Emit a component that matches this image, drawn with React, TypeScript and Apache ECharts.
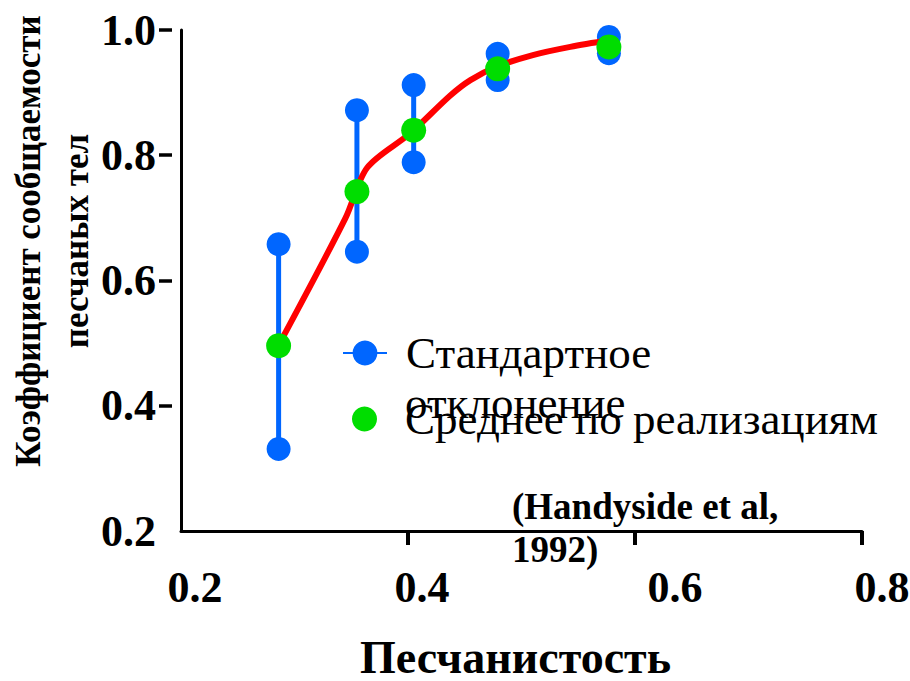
import React, { useEffect, useRef } from "react";
import * as echarts from "echarts";

// ---- data ----
const sandRatio = [0.286, 0.355, 0.405, 0.479, 0.577];
const meanCoef = [0.496, 0.742, 0.84, 0.938, 0.973];
const sdLow = [0.331, 0.646, 0.789, 0.92, 0.963];
const sdHigh = [0.658, 0.872, 0.912, 0.962, 0.989];
const fitX = [0.287, 0.345, 0.364, 0.402, 0.437, 0.455, 0.479, 0.51, 0.543, 0.578];
const fitY = [0.5, 0.7, 0.78, 0.835, 0.895, 0.92, 0.942, 0.96, 0.973, 0.984];
const xTickLabels = [0.2, 0.4, 0.6, 0.8];
const xTickMarks = [0.4, 0.6, 0.8];
const yTickLabels = [0.2, 0.4, 0.6, 0.8, 1.0];
const yTickMarks = [0.4, 0.6, 0.8, 1.0];

const SD_NAME = "Стандартное отклонение";
const MEAN_NAME = "Среднее по реализациям";
const X_TITLE = "Песчанистость";
const Y_TITLE = "Коэффициент сообщаемости\nпесчаных тел";
const SOURCE = "(Handyside et al,\n1992)";

const FONT = "Liberation Serif, serif";
const BLUE = "#0066ff";
const GREEN = "#00dd00";
const RED = "#ff0000";

// horizontal shift (px) of each x tick label, as in the picture
const xLabelShift = [14, 14, 40, 20];

export default function App() {
  const ref = useRef<HTMLDivElement>(null);
  useEffect(() => {
    if (!ref.current) return;
    const chart = echarts.init(ref.current, null, { renderer: "svg" });
    const xRich: Record<string, any> = {};
    xLabelShift.forEach((s, i) => {
      xRich["t" + i] = {
        fontFamily: FONT,
        fontWeight: "bold",
        fontSize: 44,
        color: "#000",
        padding: [0, 0, 0, s * 2],
      };
    });
    const sdSeries = sandRatio.map((x, i) => ({
      type: "line",
      name: SD_NAME,
      data: [
        [x, sdLow[i]],
        [x, sdHigh[i]],
      ],
      symbol: "circle",
      symbolSize: 24,
      itemStyle: { color: BLUE },
      lineStyle: { color: BLUE, width: 5 },
      z: 2,
    }));
    const option: any = {
      animation: false,
      backgroundColor: "#ffffff",
      textStyle: { fontFamily: FONT },
      grid: { left: 181, right: 48, top: 30, bottom: 150, containLabel: false, outerBoundsMode: "none" },
      xAxis: {
        type: "value",
        min: 0.2,
        max: 0.8,
        interval: 0.2,
        axisLine: { show: true, lineStyle: { color: "#000", width: 3 } },
        axisTick: { show: true, customValues: xTickMarks, length: 14, lineStyle: { color: "#000", width: 4 } },
        axisLabel: {
          customValues: xTickLabels,
          margin: 34,
          fontFamily: FONT,
          fontWeight: "bold",
          fontSize: 44,
          color: "#000",
          formatter: (v: number) => {
            const i = xTickLabels.findIndex((t) => Math.abs(t - v) < 1e-9);
            return `{t${i}|${v.toFixed(1)}}`;
          },
          rich: xRich,
        },
        splitLine: { show: false },
        name: X_TITLE,
        nameLocation: "middle",
        nameGap: 103,
        nameTextStyle: {
          fontFamily: FONT,
          fontWeight: "bold",
          fontSize: 46,
          color: "#000",
          padding: [0, 12, 0, 0],
        },
      },
      yAxis: [
        {
          type: "value",
          min: 0.2,
          max: 1.0,
          interval: 0.2,
          axisLine: { show: true, lineStyle: { color: "#000", width: 3 } },
          axisTick: { show: false },
          axisLabel: { show: false },
          splitLine: { show: false },
        },
        {
          type: "value",
          min: 0.2,
          max: 1.0,
          interval: 0.2,
          position: "left",
          offset: 9,
          axisLine: { show: false },
          axisTick: { show: true, customValues: yTickMarks, length: 13, lineStyle: { color: "#000", width: 3.5 } },
          axisLabel: {
            customValues: yTickLabels,
            margin: 16,
            fontFamily: FONT,
            fontWeight: "bold",
            fontSize: 44,
            color: "#000",
            formatter: (v: number) => v.toFixed(1),
          },
          splitLine: { show: false },
        },
      ],
      legend: [
        {
          data: [{ name: SD_NAME }],
          left: 342,
          top: 323,
          padding: 0,
          itemWidth: 44,
          itemHeight: 31,
          selectedMode: false,
          formatter: () => "Стандартное",
          textStyle: { fontFamily: FONT, fontSize: 45, lineHeight: 50, color: "#000", padding: [0, 0, 10, 14] },
        },
        {
          data: [{ name: MEAN_NAME, icon: "circle" }],
          left: 352,
          top: 394,
          padding: 0,
          itemWidth: 25,
          itemHeight: 25,
          selectedMode: false,
          textStyle: { fontFamily: FONT, fontSize: 45, lineHeight: 50, color: "#000", padding: [0, 0, 0, 23] },
        },
      ],
      graphic: [
        {
          type: "text",
          x: 52,
          y: 241,
          rotation: Math.PI / 2,
          style: {
            text: Y_TITLE,
            fontFamily: FONT,
            fontWeight: "bold",
            fontSize: 35,
            lineHeight: 48,
            align: "center",
            verticalAlign: "middle",
            fill: "#000",
          },
        },
        {
          type: "text",
          x: 405,
          y: 403,
          style: {
            text: "отклонение",
            fontFamily: FONT,
            fontSize: 45,
            align: "left",
            verticalAlign: "middle",
            fill: "#000",
          },
        },
        {
          type: "text",
          x: 512,
          y: 485,
          z: 100,
          style: {
            text: SOURCE,
            fontFamily: FONT,
            fontWeight: "bold",
            fontSize: 37,
            lineHeight: 43,
            align: "left",
            verticalAlign: "top",
            fill: "#000",
          },
        },
      ],
      series: [
        ...sdSeries,
        {
          type: "line",
          name: "fit",
          data: fitX.map((x, i) => [x, fitY[i]]),
          smooth: 0.3,
          symbol: "none",
          lineStyle: { color: RED, width: 6 },
          z: 3,
        },
        {
          type: "scatter",
          name: MEAN_NAME,
          data: sandRatio.map((x, i) => [x, meanCoef[i]]),
          symbol: "circle",
          symbolSize: 25,
          itemStyle: { color: GREEN, opacity: 1 },
          z: 4,
        },
      ],
    };
    chart.setOption(option);
    return () => chart.dispose();
  }, []);
  return (
    <div
      ref={ref}
      style={{ position: "fixed", left: 0, top: 0, width: 910, height: 681, background: "#fff" }}
    />
  );
}
